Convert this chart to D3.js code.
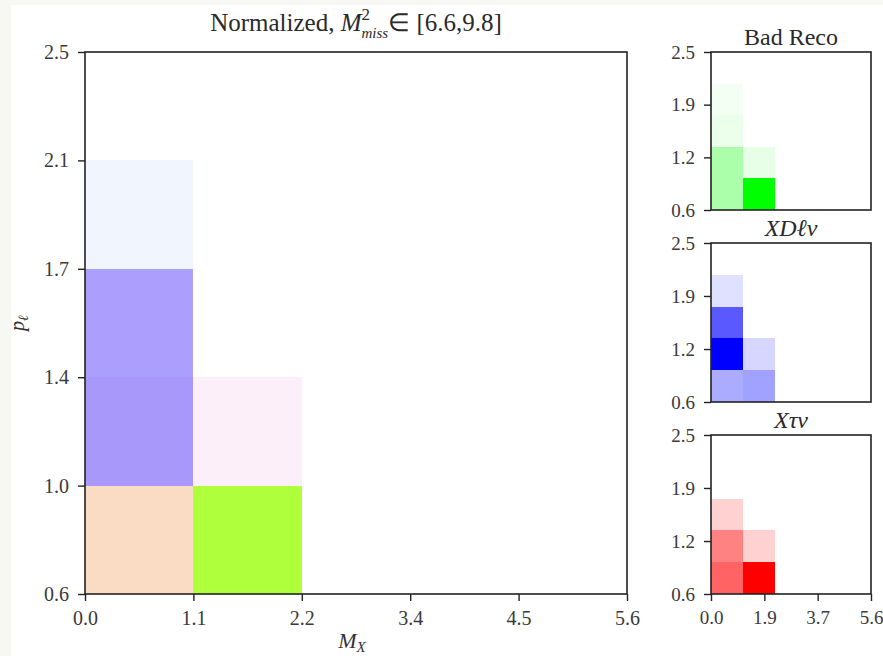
<!DOCTYPE html>
<html>
<head>
<meta charset="utf-8">
<script src="https://cdn.jsdelivr.net/npm/d3@7/dist/d3.min.js"></script>
<style>
  html, body { margin: 0; padding: 0; background: #ffffff; }
  svg { display: block; }
  .tick text { font-family: "Liberation Serif", serif; fill: #3a3a3a; }
  .tick line { stroke: #222; stroke-width: 1.4; }
</style>
</head>
<body>
<script>
// Bin edges shared by every histogram (M_X on x, p_l on y)
const xEdges = [0, 1.12, 2.24, 3.36, 4.48, 5.6];
const yEdges = [0.6, 0.98, 1.36, 1.74, 2.12, 2.5];

// Tick values of the small panels
const smallXTicks = [0, 1.867, 3.733, 5.6];
const smallYTicks = [0.6, 1.233, 1.867, 2.5];

// Per-class normalized bin contents, rows from low p_l to high p_l, columns from low M_X to high M_X
const badReco = [
  [0.33, 1.00, 0, 0, 0],
  [0.33, 0.10, 0, 0, 0],
  [0.08, 0,    0, 0, 0],
  [0.05, 0,    0, 0, 0],
  [0,    0,    0, 0, 0]
];
const xDlnu = [
  [0.33, 0.37, 0, 0, 0],
  [1.00, 0.16, 0, 0, 0],
  [0.65, 0,    0, 0, 0],
  [0.12, 0,    0, 0, 0],
  [0,    0,    0, 0, 0]
];
const xTaunu = [
  [0.61, 1.00, 0, 0, 0],
  [0.49, 0.18, 0, 0, 0],
  [0.18, 0,    0, 0, 0],
  [0,    0,    0, 0, 0],
  [0,    0,    0, 0, 0]
];

// Combined map: red / green / blue channel levels of each bin (null = empty bin)
const mainR = [
  [0.980, 0.690, null, null, null],
  [0.659, 0.992, null, null, null],
  [0.675, null,  null, null, null],
  [0.941, null,  null, null, null],
  [null,  null,  null, null, null]
];
const mainG = [
  [0.863, 1.000, null, null, null],
  [0.596, 0.937, null, null, null],
  [0.620, null,  null, null, null],
  [0.961, null,  null, null, null],
  [null,  null,  null, null, null]
];
const mainB = [
  [0.769, 0.235, null, null, null],
  [0.980, 0.980, null, null, null],
  [0.988, null,  null, null, null],
  [0.996, null,  null, null, null],
  [null,  null,  null, null, null]
];

const W = 883, H = 656;
const FONT = "Liberation Serif, serif";
const svg = d3.select("body").append("svg").attr("width", W).attr("height", H);

// light frame strips of the figure canvas
svg.append("rect").attr("x", 0).attr("y", 0).attr("width", W).attr("height", H).attr("fill", "#f7f7f4");
svg.append("rect").attr("x", 11).attr("y", 5).attr("width", W - 11).attr("height", H - 5).attr("fill", "#ffffff");

const fmt = d => d3.format(".1f")(d);

function panel(g, box, cells, xTicks, yTicks, fontSize) {
  const x = d3.scaleLinear().domain([xEdges[0], xEdges[xEdges.length - 1]]).range([box.x0, box.x1]);
  const y = d3.scaleLinear().domain([yEdges[0], yEdges[yEdges.length - 1]]).range([box.y1, box.y0]);

  g.append("g").selectAll("rect").data(cells.filter(c => c.color)).join("rect")
    .attr("x", c => x(xEdges[c.col]))
    .attr("y", c => y(yEdges[c.row + 1]))
    .attr("width", c => x(xEdges[c.col + 1]) - x(xEdges[c.col]))
    .attr("height", c => y(yEdges[c.row]) - y(yEdges[c.row + 1]))
    .attr("fill", c => c.color)
    .attr("shape-rendering", "crispEdges");

  const ax = g.append("g").attr("transform", `translate(0,${box.y1})`)
    .call(d3.axisBottom(x).tickValues(xTicks).tickFormat(fmt).tickSize(7).tickPadding(10));
  const ay = g.append("g").attr("transform", `translate(${box.x0},0)`)
    .call(d3.axisLeft(y).tickValues(yTicks).tickFormat(fmt).tickSize(7).tickPadding(9));
  [ax, ay].forEach(a => {
    a.attr("font-size", null).attr("font-family", null);
    a.select(".domain").remove();
    a.selectAll("text").style("font-size", fontSize + "px");
  });

  g.append("rect")
    .attr("x", box.x0).attr("y", box.y0)
    .attr("width", box.x1 - box.x0).attr("height", box.y1 - box.y0)
    .attr("fill", "none").attr("stroke", "#222").attr("stroke-width", 1.6);
  return { x, y };
}

function cellsFrom(values, hue) {
  const out = [];
  values.forEach((row, r) => row.forEach((v, c) => {
    if (v > 0) out.push({ row: r, col: c, color: d3.interpolateRgb("#ffffff", hue)(v) });
  }));
  return out;
}

function mainCells() {
  const out = [];
  mainR.forEach((row, r) => row.forEach((v, c) => {
    if (v !== null) out.push({ row: r, col: c, color: d3.rgb(255 * v, 255 * mainG[r][c], 255 * mainB[r][c]).formatHex() });
  }));
  return out;
}

// Combined panel
const mainBox = { x0: 85, x1: 627, y0: 52, y1: 594 };
panel(svg.append("g"), mainBox, mainCells(), xEdges, yEdges, 20);

// main title
const title = svg.append("text")
  .attr("x", (mainBox.x0 + mainBox.x1) / 2).attr("y", 31)
  .attr("text-anchor", "middle")
  .style("font-family", FONT).style("font-size", "25px").style("fill", "#2a2a2a");
title.append("tspan").text("Normalized, ");
title.append("tspan").style("font-style", "italic").text("M");
const sup = title.append("tspan").attr("dy", -11).style("font-size", "17px").text("2");
const sub = title.append("tspan").attr("dy", 18).style("font-size", "15px").style("font-style", "italic").text("miss");
title.append("tspan").attr("dy", -7).text("\u2208 [6.6,9.8]");
sub.attr("dx", -sup.node().getComputedTextLength());

// axis labels of the combined panel
const xl = svg.append("text")
  .attr("x", (mainBox.x0 + mainBox.x1) / 2 - 4).attr("y", 648)
  .attr("text-anchor", "middle")
  .style("font-family", FONT).style("font-size", "22px").style("fill", "#333");
xl.append("tspan").style("font-style", "italic").text("M");
xl.append("tspan").attr("dy", 4).style("font-size", "15px").style("font-style", "italic").text("X");

const yl = svg.append("text")
  .attr("transform", `translate(24,${(mainBox.y0 + mainBox.y1) / 2}) rotate(-90)`)
  .attr("text-anchor", "middle")
  .style("font-family", FONT).style("font-size", "20px").style("fill", "#333");
yl.append("tspan").style("font-style", "italic").text("p");
yl.append("tspan").attr("dy", 4).style("font-size", "14px").style("font-style", "italic").text("\u2113");

// Per-class panels
const smallPanels = [
  { name: "Bad Reco", italic: false, values: badReco, hue: "#00ff00", box: { x0: 711, x1: 871, y0: 52, y1: 210 }, xTicks: [] },
  { name: "XD\u2113\u03bd", italic: true, values: xDlnu, hue: "#0000ff", box: { x0: 711, x1: 871, y0: 243, y1: 402 }, xTicks: [] },
  { name: "X\u03c4\u03bd", italic: true, values: xTaunu, hue: "#ff0000", box: { x0: 711, x1: 871, y0: 435, y1: 594 }, xTicks: smallXTicks }
];

smallPanels.forEach(p => {
  const g = svg.append("g");
  panel(g, p.box, cellsFrom(p.values, p.hue), p.xTicks, smallYTicks, 19);
  g.append("text")
    .attr("x", (p.box.x0 + p.box.x1) / 2).attr("y", p.box.y0 - 7)
    .attr("text-anchor", "middle")
    .style("font-family", FONT).style("font-size", "24px")
    .style("font-style", p.italic ? "italic" : "normal").style("fill", "#2a2a2a")
    .text(p.name);
});
</script>
</body>
</html>
